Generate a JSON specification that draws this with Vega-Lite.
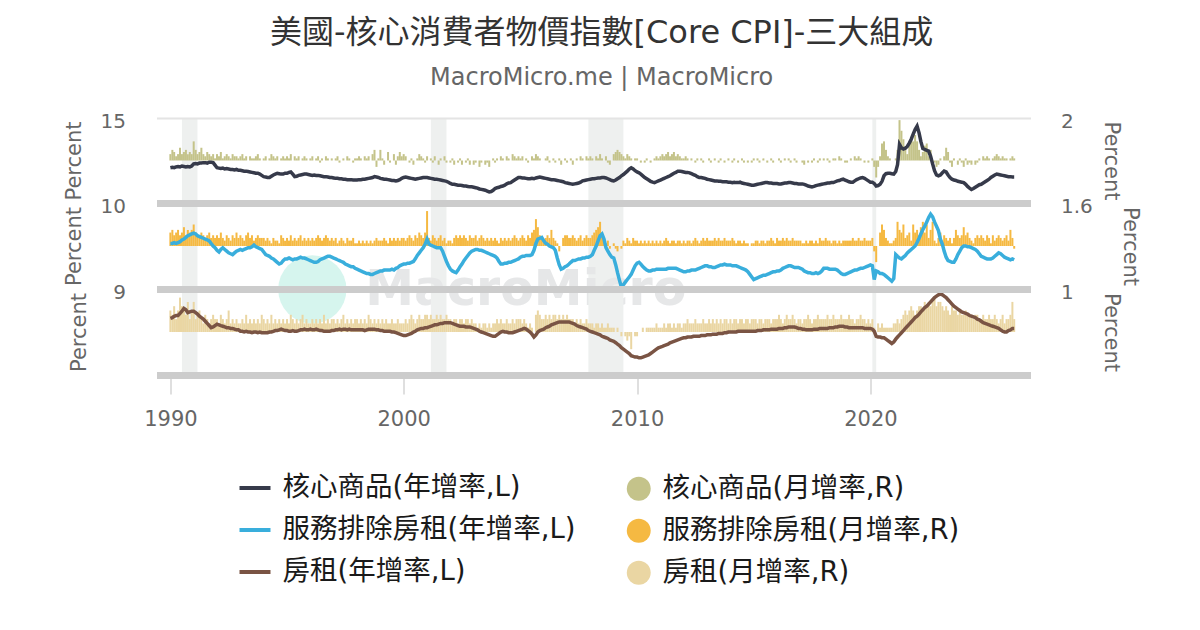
{
  "$schema": "https://vega.github.io/schema/vega-lite/v6.json",
  "background": "white",
  "padding": {"left": 62.5, "top": 17, "right": 20, "bottom": 10},
  "title": {
    "text": "美國-核心消費者物價指數[Core CPI]-三大組成",
    "subtitle": "MacroMicro.me | MacroMicro",
    "anchor": "middle",
    "font": "DejaVu Sans, Noto Sans CJK TC",
    "fontSize": 32,
    "fontWeight": "normal",
    "color": "#333333",
    "subtitleFont": "DejaVu Sans",
    "subtitleFontSize": 24,
    "subtitleColor": "#666666",
    "subtitlePadding": 16,
    "offset": 20
  },
  "datasets": {
    "rec": [
      {"s": "1990-07-01", "e": "1991-03-01"},
      {"s": "2001-03-01", "e": "2001-11-01"},
      {"s": "2007-12-01", "e": "2009-06-01"},
      {"s": "2020-02-01", "e": "2020-04-01"}
    ]
  },
  "data": {
    "values": "d,a,b,c,p,q,r\n1990-01,3.3,5.3,4.9,0.3,0.5,0.5\n1990-02,3.4,5.3,5.0,0.5,0.6,0.4\n1990-03,3.3,5.4,5.2,0.4,0.4,0.6\n1990-04,3.5,5.3,5.3,0.2,0.5,0.3\n1990-05,3.6,5.4,5.3,0.3,0.6,0.5\n1990-06,3.5,5.5,5.6,0.6,0.4,0.8\n1990-07,3.7,5.7,5.9,0.3,0.5,0.6\n1990-08,3.6,5.8,6.3,0.4,0.7,0.5\n1990-09,3.5,6.0,6.1,0.5,0.4,0.4\n1990-10,3.6,6.2,5.7,0.3,0.6,0.7\n1990-11,3.5,6.3,5.8,0.4,0.5,0.3\n1990-12,3.7,6.4,5.9,0.3,0.6,0.5\n1991-01,4.2,6.5,5.9,0.9,0.8,0.7\n1991-02,4.3,6.4,5.7,0.5,0.5,0.3\n1991-03,4.2,6.2,5.5,0.3,0.4,0.4\n1991-04,4.4,6.1,5.2,0.4,0.3,0.5\n1991-05,4.4,6.0,5.0,0.6,0.5,0.3\n1991-06,4.5,5.9,4.8,0.3,0.4,0.2\n1991-07,4.5,5.8,4.5,0.2,0.3,0.4\n1991-08,4.4,5.7,4.2,0.4,0.4,0.3\n1991-09,4.6,5.6,3.9,0.3,0.5,0.2\n1991-10,4.6,5.3,3.6,0.2,0.3,0.3\n1991-11,4.5,5.0,3.7,0.3,0.4,0.4\n1991-12,3.9,4.8,3.9,0.1,0.3,0.3\n1992-01,3.3,4.5,4.1,0.3,0.4,0.3\n1992-02,3.2,4.3,4.0,0.2,0.3,0.2\n1992-03,3.1,4.6,3.9,0.4,0.5,0.4\n1992-04,3.2,4.8,3.8,0.1,0.3,0.3\n1992-05,3.0,4.6,3.7,0.2,0.2,0.2\n1992-06,3.1,4.4,3.6,0.3,0.4,0.3\n1992-07,3.0,4.2,3.6,0.2,0.3,0.5\n1992-08,2.9,4.1,3.5,0.1,0.2,0.2\n1992-09,2.9,4.0,3.5,0.3,0.4,0.3\n1992-10,2.8,4.2,3.4,0.2,0.3,0.2\n1992-11,2.9,4.4,3.3,0.2,0.5,0.3\n1992-12,2.7,4.5,3.3,0.1,0.3,0.2\n1993-01,2.7,4.6,3.1,0.2,0.4,0.2\n1993-02,2.6,4.5,3.1,0.3,0.3,0.3\n1993-03,2.5,4.6,3.0,0.1,0.2,0.2\n1993-04,2.5,4.7,3.1,0.2,0.4,0.4\n1993-05,2.4,4.8,3.0,0.0,0.5,0.2\n1993-06,2.3,4.8,3.0,0.2,0.3,0.3\n1993-07,2.2,4.9,2.9,0.1,0.4,0.2\n1993-08,2.1,5.1,3.0,0.1,0.2,0.3\n1993-09,2.0,4.9,3.0,0.2,0.3,0.2\n1993-10,2.0,4.8,2.9,0.3,0.4,0.3\n1993-11,1.8,4.7,3.0,0.1,0.3,0.2\n1993-12,1.5,4.6,2.9,0.0,0.3,0.4\n1994-01,1.2,4.3,2.9,0.1,0.3,0.3\n1994-02,1.1,4.0,2.9,0.2,0.2,0.2\n1994-03,1.0,3.9,2.9,0.0,0.3,0.3\n1994-04,1.0,3.8,3.0,0.1,0.2,0.2\n1994-05,1.3,3.6,3.0,0.3,0.1,0.4\n1994-06,1.6,3.5,3.1,0.2,0.3,0.2\n1994-07,1.8,3.3,3.2,0.1,0.2,0.3\n1994-08,2.0,3.1,3.2,0.2,0.2,0.2\n1994-09,1.9,2.9,3.3,0.0,0.1,0.3\n1994-10,1.8,3.0,3.4,0.1,0.4,0.2\n1994-11,1.8,3.3,3.3,0.2,0.3,0.3\n1994-12,2.0,3.5,3.2,0.1,0.2,0.2\n1995-01,2.0,3.5,3.2,0.2,0.3,0.3\n1995-02,2.2,3.6,3.1,0.1,0.2,0.2\n1995-03,2.3,3.5,3.1,0.3,0.4,0.4\n1995-04,1.8,3.4,3.2,0.0,0.2,0.3\n1995-05,1.2,3.5,3.1,0.2,0.3,0.2\n1995-06,1.3,3.5,3.1,0.1,0.2,0.3\n1995-07,1.5,3.6,3.2,0.2,0.3,0.2\n1995-08,1.6,3.7,3.3,0.0,0.4,0.3\n1995-09,1.7,3.6,3.3,0.1,0.2,0.4\n1995-10,1.8,3.6,3.4,0.2,0.3,0.2\n1995-11,1.8,3.5,3.3,0.1,0.2,0.3\n1995-12,1.7,3.4,3.3,0.0,0.3,0.2\n1996-01,1.6,3.3,3.4,0.1,0.2,0.2\n1996-02,1.5,3.2,3.3,0.2,0.3,0.3\n1996-03,1.6,3.1,3.3,0.0,0.2,0.2\n1996-04,1.5,3.1,3.4,0.1,0.3,0.3\n1996-05,1.5,3.2,3.3,0.2,0.4,0.2\n1996-06,1.4,3.4,3.2,-0.1,0.3,0.3\n1996-07,1.3,3.5,3.2,0.1,0.2,0.2\n1996-08,1.2,3.6,3.1,0.0,0.3,0.4\n1996-09,1.2,3.7,3.1,0.2,0.4,0.2\n1996-10,1.1,3.8,3.1,0.1,0.3,0.3\n1996-11,1.0,3.8,3.1,0.0,0.2,0.2\n1996-12,1.0,3.7,3.2,0.1,0.3,0.3\n1997-01,0.9,3.6,3.2,0.0,0.2,0.3\n1997-02,0.8,3.5,3.3,0.1,0.3,0.2\n1997-03,0.8,3.4,3.3,0.2,0.1,0.3\n1997-04,0.7,3.3,3.4,-0.1,0.2,0.2\n1997-05,0.7,3.2,3.3,0.0,0.3,0.3\n1997-06,0.6,3.1,3.4,0.1,0.2,0.4\n1997-07,0.6,2.9,3.4,0.0,0.1,0.2\n1997-08,0.5,2.8,3.3,0.2,0.3,0.3\n1997-09,0.5,2.7,3.4,0.1,0.2,0.2\n1997-10,0.5,2.6,3.3,0.0,0.2,0.3\n1997-11,0.4,2.6,3.3,-0.1,0.3,0.2\n1997-12,0.4,2.4,3.3,0.1,0.1,0.3\n1998-01,0.4,2.3,3.3,0.1,0.1,0.3\n1998-02,0.5,2.2,3.3,0.2,0.2,0.2\n1998-03,0.5,2.1,3.3,0.1,0.1,0.3\n1998-04,0.6,2.0,3.3,0.0,0.2,0.2\n1998-05,0.6,1.9,3.2,0.2,0.1,0.3\n1998-06,0.7,1.8,3.3,0.1,0.2,0.2\n1998-07,0.8,1.8,3.4,0.2,0.1,0.4\n1998-08,0.9,1.7,3.4,0.0,0.2,0.3\n1998-09,1.0,1.7,3.4,0.3,0.1,0.2\n1998-10,1.2,1.8,3.4,0.5,0.2,0.3\n1998-11,1.1,1.9,3.3,-0.3,0.3,0.2\n1998-12,1.0,2.0,3.3,0.1,0.2,0.3\n1999-01,0.8,2.1,3.2,0.5,0.2,0.2\n1999-02,0.7,2.1,3.2,0.1,0.2,0.3\n1999-03,0.6,2.2,3.1,-0.2,0.3,0.2\n1999-04,0.6,2.2,3.1,0.0,0.2,0.3\n1999-05,0.5,2.2,3.1,0.4,0.1,0.2\n1999-06,0.4,2.2,3.1,-0.1,0.3,0.2\n1999-07,0.3,2.3,3.0,0.0,0.2,0.3\n1999-08,0.3,2.2,3.0,0.3,0.3,0.2\n1999-09,0.2,2.4,2.9,-0.2,0.2,0.2\n1999-10,0.3,2.5,2.8,0.2,0.3,0.3\n1999-11,0.5,2.7,2.7,0.4,0.2,0.2\n1999-12,0.8,2.8,2.6,0.2,0.3,0.2\n2000-01,1.0,2.9,2.5,0.3,0.3,0.2\n2000-02,1.1,2.9,2.5,0.2,0.2,0.3\n2000-03,1.0,3.0,2.6,0.0,0.3,0.2\n2000-04,0.9,3.0,2.7,-0.1,0.4,0.3\n2000-05,0.8,3.1,2.8,0.1,0.3,0.4\n2000-06,0.7,3.2,3.0,-0.2,0.2,0.3\n2000-07,0.6,3.5,3.1,0.0,0.4,0.2\n2000-08,0.7,3.9,3.3,0.1,0.3,0.3\n2000-09,0.8,4.2,3.4,0.3,0.5,0.4\n2000-10,0.9,4.5,3.5,0.2,0.4,0.3\n2000-11,1.0,4.8,3.5,0.1,0.3,0.3\n2000-12,1.0,5.2,3.6,-0.1,0.5,0.4\n2001-01,1.0,5.8,3.6,0.2,1.3,0.4\n2001-02,0.9,5.2,3.7,0.0,0.3,0.3\n2001-03,0.8,5.1,3.8,0.1,0.2,0.4\n2001-04,0.7,5.0,3.9,-0.1,0.4,0.3\n2001-05,0.6,4.9,4.0,0.2,0.3,0.3\n2001-06,0.6,4.8,4.0,0.0,0.2,0.4\n2001-07,0.5,4.8,4.1,-0.2,0.3,0.3\n2001-08,0.4,4.8,4.2,0.1,0.4,0.4\n2001-09,0.3,4.4,4.2,0.0,0.2,0.3\n2001-10,0.2,3.8,4.3,0.2,0.3,0.3\n2001-11,0.1,3.2,4.3,-0.1,0.1,0.4\n2001-12,-0.1,2.7,4.3,0.0,0.2,0.3\n2002-01,-0.4,2.3,4.3,-0.1,0.2,0.3\n2002-02,-0.6,2.1,4.2,0.1,0.1,0.2\n2002-03,-0.6,2.0,4.1,-0.2,0.3,0.3\n2002-04,-0.7,1.9,4.0,0.0,0.4,0.3\n2002-05,-0.8,2.2,3.9,-0.1,0.3,0.2\n2002-06,-0.8,2.6,3.8,0.1,0.4,0.3\n2002-07,-0.9,2.9,3.8,-0.2,0.3,0.3\n2002-08,-1.0,3.3,3.8,0.0,0.4,0.2\n2002-09,-1.0,3.6,3.7,-0.1,0.3,0.3\n2002-10,-1.1,3.9,3.7,0.1,0.2,0.3\n2002-11,-1.2,4.2,3.7,-0.2,0.4,0.2\n2002-12,-1.2,4.4,3.6,0.0,0.3,0.3\n2003-01,-1.3,4.5,3.5,-0.2,0.3,0.2\n2003-02,-1.4,4.6,3.4,-0.1,0.4,0.2\n2003-03,-1.5,4.6,3.3,0.0,0.2,0.1\n2003-04,-1.7,4.5,3.1,-0.3,0.3,0.2\n2003-05,-1.8,4.5,3.0,-0.1,0.4,0.1\n2003-06,-1.9,4.4,2.9,0.0,0.3,0.2\n2003-07,-2.0,4.3,2.8,-0.2,0.2,0.2\n2003-08,-2.2,4.2,2.7,-0.1,0.3,0.1\n2003-09,-2.4,4.1,2.6,-0.3,0.2,0.2\n2003-10,-2.3,4.0,2.5,0.0,0.3,0.1\n2003-11,-2.0,3.9,2.4,0.1,0.2,0.2\n2003-12,-1.6,3.8,2.4,-0.1,0.3,0.2\n2004-01,-1.4,3.6,2.6,0.1,0.2,0.3\n2004-02,-1.3,3.2,2.8,0.0,0.1,0.2\n2004-03,-1.1,2.9,3.0,0.2,0.3,0.3\n2004-04,-1.0,2.9,3.1,0.1,0.2,0.2\n2004-05,-0.8,3.0,3.0,0.0,0.3,0.2\n2004-06,-0.5,3.0,3.0,0.2,0.2,0.3\n2004-07,-0.3,3.1,2.9,0.1,0.3,0.2\n2004-08,-0.2,3.1,2.9,0.0,0.2,0.2\n2004-09,0.1,3.2,2.9,0.3,0.3,0.3\n2004-10,0.4,3.3,3.0,0.2,0.4,0.2\n2004-11,0.7,3.4,3.1,0.1,0.3,0.3\n2004-12,1.0,3.5,3.2,0.2,0.2,0.3\n2005-01,1.0,3.7,3.3,0.1,0.3,0.3\n2005-02,0.9,3.8,3.4,0.2,0.4,0.2\n2005-03,0.9,3.8,3.5,0.0,0.3,0.3\n2005-04,0.8,3.9,3.4,0.1,0.2,0.2\n2005-05,0.7,3.9,3.2,-0.1,0.4,0.1\n2005-06,0.7,3.9,3.0,0.0,0.3,0.2\n2005-07,0.8,4.0,2.7,0.2,0.5,0.1\n2005-08,0.7,4.5,2.3,0.1,0.6,0.0\n2005-09,0.9,5.3,2.6,0.3,1.0,0.4\n2005-10,1.0,5.8,3.0,0.2,0.7,0.5\n2005-11,1.1,5.9,3.2,0.1,0.4,0.4\n2005-12,1.0,6.0,3.3,0.0,0.3,0.3\n2006-01,0.9,5.6,3.4,0.0,0.2,0.3\n2006-02,0.8,5.3,3.6,0.1,0.3,0.4\n2006-03,0.7,5.2,3.7,0.2,0.4,0.3\n2006-04,0.6,5.0,3.8,-0.1,0.3,0.4\n2006-05,0.5,4.9,4.0,0.0,0.6,0.3\n2006-06,0.5,4.8,4.1,0.1,0.3,0.4\n2006-07,0.4,4.5,4.2,-0.1,0.2,0.4\n2006-08,0.3,3.6,4.3,0.0,0.1,0.3\n2006-09,0.2,2.8,4.4,0.1,-0.2,0.4\n2006-10,0.1,2.3,4.4,-0.2,0.0,0.3\n2006-11,0.0,2.4,4.4,0.0,0.3,0.4\n2006-12,-0.2,2.6,4.4,0.1,0.4,0.3\n2007-01,-0.3,2.7,4.4,-0.1,0.4,0.4\n2007-02,-0.4,2.9,4.4,0.0,0.3,0.3\n2007-03,-0.5,3.1,4.3,0.1,0.3,0.3\n2007-04,-0.6,3.3,4.2,-0.2,0.4,0.3\n2007-05,-0.5,3.3,4.1,0.0,0.3,0.2\n2007-06,-0.4,3.4,3.9,0.1,0.2,0.3\n2007-07,-0.3,3.5,3.8,0.0,0.3,0.2\n2007-08,-0.1,3.5,3.7,0.2,0.4,0.3\n2007-09,0.2,3.6,3.6,0.1,0.2,0.2\n2007-10,0.3,3.6,3.5,0.0,0.3,0.2\n2007-11,0.4,3.7,3.4,0.2,0.4,0.3\n2007-12,0.5,3.7,3.2,0.1,0.3,0.2\n2008-01,0.6,3.8,3.1,0.2,0.3,0.2\n2008-02,0.7,4.0,3.0,0.1,0.4,0.2\n2008-03,0.7,4.5,2.9,0.0,0.5,0.1\n2008-04,0.8,5.0,2.8,0.2,0.6,0.2\n2008-05,0.9,5.6,2.7,0.1,0.7,0.2\n2008-06,0.9,6.2,2.6,0.3,0.9,0.1\n2008-07,1.0,6.4,2.4,0.1,0.5,0.2\n2008-08,1.0,5.8,2.3,0.0,0.2,0.1\n2008-09,0.9,4.8,2.2,0.2,0.1,0.1\n2008-10,0.7,4.4,2.1,-0.1,0.2,0.2\n2008-11,0.5,4.0,1.9,-0.2,-0.1,0.1\n2008-12,0.3,3.7,1.8,0.0,0.0,0.1\n2009-01,0.2,3.6,1.7,0.3,0.1,0.1\n2009-02,0.4,2.8,1.5,0.4,-0.1,0.0\n2009-03,0.7,1.9,1.3,0.5,-0.2,0.1\n2009-04,1.0,1.0,1.1,0.4,0.0,0.0\n2009-05,1.4,0.2,0.8,0.3,-0.1,-0.1\n2009-06,1.7,0.5,0.6,0.2,0.2,0.0\n2009-07,2.1,0.8,0.4,0.1,0.1,-0.1\n2009-08,2.5,1.1,0.2,0.3,0.3,-0.2\n2009-09,3.0,1.4,0.0,0.2,0.2,-0.1\n2009-10,3.3,1.7,-0.3,0.1,0.1,-0.4\n2009-11,3.0,2.2,-0.4,0.0,0.3,0.0\n2009-12,2.6,2.7,-0.5,0.1,0.2,-0.1\n2010-01,2.3,3.0,-0.5,0.1,0.2,-0.1\n2010-02,2.1,3.1,-0.6,0.0,0.1,0.0\n2010-03,1.8,2.9,-0.6,-0.1,0.2,0.0\n2010-04,1.4,2.6,-0.5,0.0,0.1,0.1\n2010-05,1.0,2.4,-0.4,-0.1,0.2,0.0\n2010-06,0.7,2.2,-0.3,0.1,0.1,0.1\n2010-07,0.4,2.1,-0.2,0.0,0.2,0.1\n2010-08,0.1,2.1,0.0,-0.1,0.1,0.1\n2010-09,-0.1,2.2,0.2,0.0,0.2,0.1\n2010-10,-0.2,2.2,0.4,0.1,0.1,0.1\n2010-11,0.0,2.3,0.6,0.2,0.2,0.2\n2010-12,0.2,2.3,0.8,0.1,0.1,0.1\n2011-01,0.4,2.3,0.9,0.2,0.2,0.1\n2011-02,0.6,2.3,1.0,0.3,0.1,0.1\n2011-03,0.8,2.3,1.1,0.2,0.2,0.2\n2011-04,1.0,2.3,1.2,0.3,0.3,0.1\n2011-05,1.2,2.4,1.3,0.4,0.2,0.2\n2011-06,1.4,2.4,1.5,0.2,0.1,0.2\n2011-07,1.7,2.4,1.6,0.3,0.2,0.1\n2011-08,2.0,2.4,1.7,0.4,0.2,0.2\n2011-09,2.2,2.4,1.8,0.2,0.1,0.1\n2011-10,2.5,2.3,1.9,0.3,0.2,0.2\n2011-11,2.5,2.2,2.0,0.2,0.2,0.2\n2011-12,2.4,2.1,2.1,0.1,0.1,0.1\n2012-01,2.3,2.0,2.2,0.1,0.2,0.2\n2012-02,2.2,2.0,2.2,0.2,0.1,0.2\n2012-03,2.2,2.1,2.3,0.1,0.2,0.3\n2012-04,2.1,2.1,2.3,0.0,0.2,0.2\n2012-05,1.9,2.2,2.3,0.1,0.1,0.2\n2012-06,1.7,2.2,2.4,0.0,0.2,0.2\n2012-07,1.5,2.2,2.4,-0.1,0.3,0.3\n2012-08,1.2,2.3,2.4,0.1,0.2,0.2\n2012-09,1.0,2.4,2.4,0.0,0.1,0.2\n2012-10,1.0,2.5,2.5,0.1,0.2,0.2\n2012-11,0.9,2.6,2.5,-0.1,0.3,0.3\n2012-12,0.8,2.7,2.5,0.0,0.2,0.2\n2013-01,0.6,2.7,2.6,0.0,0.3,0.2\n2013-02,0.5,2.6,2.6,0.1,0.2,0.3\n2013-03,0.4,2.6,2.6,-0.1,0.2,0.2\n2013-04,0.3,2.5,2.7,0.0,0.2,0.3\n2013-05,0.2,2.5,2.7,0.1,0.3,0.2\n2013-06,0.2,2.6,2.7,0.0,0.2,0.3\n2013-07,0.1,2.7,2.8,-0.1,0.3,0.2\n2013-08,0.1,2.8,2.8,0.1,0.2,0.3\n2013-09,0.0,2.8,2.8,0.0,0.2,0.2\n2013-10,0.0,2.9,2.9,-0.1,0.3,0.3\n2013-11,0.0,2.8,2.9,0.0,0.2,0.3\n2013-12,-0.1,2.8,3.0,0.1,0.2,0.2\n2014-01,-0.1,2.8,3.0,0.0,0.2,0.3\n2014-02,-0.2,2.7,3.0,-0.1,0.3,0.2\n2014-03,-0.1,2.7,3.0,0.1,0.2,0.3\n2014-04,-0.2,2.7,3.0,0.0,0.1,0.3\n2014-05,-0.2,2.6,3.1,-0.1,0.2,0.2\n2014-06,-0.1,2.5,3.1,0.0,0.2,0.3\n2014-07,-0.3,2.4,3.1,0.1,0.1,0.3\n2014-08,-0.4,2.3,3.1,-0.1,0.2,0.2\n2014-09,-0.5,2.2,3.1,0.0,0.1,0.3\n2014-10,-0.6,2.0,3.1,-0.1,0.1,0.3\n2014-11,-0.7,1.7,3.1,0.0,0.0,0.2\n2014-12,-0.8,1.4,3.1,-0.1,0.1,0.3\n2015-01,-0.8,1.1,3.1,0.1,0.1,0.3\n2015-02,-0.7,1.2,3.1,0.0,0.2,0.3\n2015-03,-0.6,1.3,3.2,0.1,0.2,0.2\n2015-04,-0.5,1.4,3.2,-0.1,0.1,0.3\n2015-05,-0.4,1.5,3.2,0.0,0.2,0.3\n2015-06,-0.3,1.6,3.3,0.1,0.2,0.2\n2015-07,-0.2,1.6,3.3,0.0,0.1,0.3\n2015-08,-0.2,1.7,3.3,-0.1,0.2,0.3\n2015-09,-0.3,1.8,3.3,0.0,0.2,0.3\n2015-10,-0.3,1.9,3.4,0.1,0.3,0.2\n2015-11,-0.4,2.0,3.4,-0.1,0.2,0.3\n2015-12,-0.4,2.0,3.4,0.0,0.1,0.3\n2016-01,-0.4,2.1,3.4,0.0,0.3,0.3\n2016-02,-0.5,2.1,3.5,0.1,0.2,0.4\n2016-03,-0.5,2.2,3.5,-0.1,0.2,0.3\n2016-04,-0.4,2.4,3.5,0.0,0.3,0.2\n2016-05,-0.3,2.5,3.6,0.1,0.2,0.3\n2016-06,-0.3,2.6,3.6,0.0,0.3,0.4\n2016-07,-0.2,2.7,3.7,0.1,0.2,0.3\n2016-08,-0.2,2.7,3.7,-0.1,0.2,0.3\n2016-09,-0.3,2.6,3.7,0.0,0.3,0.4\n2016-10,-0.4,2.5,3.7,0.1,0.2,0.3\n2016-11,-0.4,2.5,3.6,-0.1,0.2,0.2\n2016-12,-0.5,2.5,3.5,0.0,0.2,0.3\n2017-01,-0.5,2.4,3.5,0.0,0.2,0.3\n2017-02,-0.5,2.3,3.4,-0.1,0.1,0.2\n2017-03,-0.6,2.1,3.4,-0.2,0.1,0.3\n2017-04,-0.8,2.0,3.3,0.0,0.2,0.3\n2017-05,-1.0,1.9,3.3,-0.1,0.1,0.4\n2017-06,-1.1,1.9,3.3,0.0,0.2,0.3\n2017-07,-1.2,1.8,3.3,-0.1,0.2,0.2\n2017-08,-1.1,1.8,3.4,0.1,0.1,0.3\n2017-09,-0.9,1.9,3.4,0.0,0.2,0.3\n2017-10,-0.8,1.8,3.4,-0.1,0.1,0.4\n2017-11,-0.7,1.9,3.5,0.1,0.3,0.3\n2017-12,-0.6,2.1,3.5,0.0,0.2,0.3\n2018-01,-0.5,2.4,3.5,0.1,0.2,0.3\n2018-02,-0.4,2.4,3.5,0.0,0.3,0.3\n2018-03,-0.3,2.4,3.5,0.1,0.2,0.4\n2018-04,-0.3,2.3,3.6,-0.1,0.2,0.3\n2018-05,-0.2,2.3,3.6,0.0,0.1,0.3\n2018-06,-0.2,2.3,3.6,0.1,0.2,0.4\n2018-07,0.0,2.3,3.7,0.1,0.2,0.3\n2018-08,0.2,2.2,3.7,0.0,0.1,0.3\n2018-09,0.3,2.0,3.8,0.2,0.2,0.3\n2018-10,0.5,1.8,3.8,0.1,0.1,0.4\n2018-11,0.6,1.7,3.8,0.0,0.2,0.3\n2018-12,0.4,1.7,3.7,-0.1,0.2,0.3\n2019-01,0.2,1.8,3.7,-0.1,0.2,0.3\n2019-02,0.0,1.9,3.6,0.0,0.2,0.4\n2019-03,-0.1,2.0,3.6,0.1,0.2,0.3\n2019-04,-0.1,2.1,3.6,0.0,0.3,0.3\n2019-05,0.2,2.2,3.6,0.2,0.2,0.2\n2019-06,0.5,2.2,3.6,0.1,0.2,0.3\n2019-07,0.7,2.3,3.6,0.2,0.3,0.3\n2019-08,0.9,2.4,3.6,0.1,0.2,0.4\n2019-09,1.0,2.4,3.6,0.0,0.2,0.3\n2019-10,0.8,2.5,3.5,-0.1,0.3,0.3\n2019-11,0.5,2.6,3.5,0.0,0.2,0.2\n2019-12,0.2,2.7,3.5,-0.1,0.2,0.3\n2020-01,-0.1,2.8,3.5,0.0,0.2,0.2\n2020-02,-0.1,2.7,3.4,0.1,0.3,0.3\n2020-03,-0.4,1.1,3.1,-0.3,-0.2,0.1\n2020-04,-1.0,2.1,2.4,-0.8,-0.6,0.0\n2020-05,-0.9,2.0,2.3,-0.3,0.0,0.2\n2020-06,-0.6,1.8,2.3,0.2,0.5,0.1\n2020-07,0.1,1.8,2.2,0.8,0.8,0.2\n2020-08,1.4,1.7,2.2,0.9,0.6,0.1\n2020-09,1.9,1.5,2.0,0.5,0.3,0.1\n2020-10,2.0,1.3,1.8,0.2,0.2,0.1\n2020-11,2.0,1.1,1.6,0.1,0.1,0.1\n2020-12,1.9,0.9,1.4,0.0,0.1,0.1\n2021-01,1.8,1.2,1.6,0.0,0.2,0.2\n2021-02,2.4,4.0,2.0,0.1,0.3,0.2\n2021-03,4.0,3.8,2.3,0.5,0.9,0.3\n2021-04,8.8,3.6,2.6,1.9,0.6,0.2\n2021-05,8.0,3.5,2.9,1.4,0.5,0.3\n2021-06,7.7,3.7,3.2,1.0,0.8,0.4\n2021-07,7.9,3.9,3.5,0.6,0.3,0.5\n2021-08,8.3,4.2,3.8,0.3,0.4,0.4\n2021-09,9.1,4.4,4.1,0.8,0.5,0.5\n2021-10,10.0,4.6,4.4,1.0,0.2,0.6\n2021-11,11.2,4.8,4.7,0.9,0.8,0.5\n2021-12,12.3,5.0,5.0,1.2,0.5,0.4\n2022-01,13.1,5.4,5.2,0.9,0.6,0.5\n2022-02,11.5,5.9,5.5,0.5,0.4,0.6\n2022-03,9.5,6.4,5.8,0.2,0.7,0.6\n2022-04,7.8,6.9,6.1,0.4,0.9,0.5\n2022-05,7.6,7.3,6.4,0.7,0.5,0.7\n2022-06,7.4,7.8,6.6,0.8,0.8,0.6\n2022-07,7.2,8.3,6.9,0.2,0.3,0.7\n2022-08,6.0,8.7,7.2,0.5,0.6,0.6\n2022-09,4.2,8.4,7.5,0.0,0.9,0.7\n2022-10,2.6,7.8,7.8,-0.1,0.2,0.8\n2022-11,1.6,7.3,8.0,-0.3,0.1,0.6\n2022-12,1.4,6.8,8.2,-0.2,0.3,0.7\n2023-01,1.6,5.8,8.3,0.1,0.5,0.7\n2023-02,2.1,5.2,8.2,0.0,0.2,0.6\n2023-03,2.5,4.4,8.0,0.2,0.4,0.5\n2023-04,2.3,3.7,7.8,0.6,0.3,0.6\n2023-05,1.6,3.3,7.5,0.4,0.2,0.5\n2023-06,1.0,3.2,7.2,-0.1,0.3,0.4\n2023-07,0.6,3.1,6.9,-0.3,0.1,0.6\n2023-08,0.4,3.1,6.6,0.1,0.3,0.5\n2023-09,0.3,3.5,6.4,0.0,0.6,0.5\n2023-10,0.1,4.0,6.2,-0.2,0.4,0.4\n2023-11,0.0,4.4,6.0,0.1,0.3,0.5\n2023-12,-0.1,4.8,5.8,-0.1,0.4,0.4\n2024-01,-0.2,5.0,5.7,-0.3,0.7,0.4\n2024-02,-0.6,5.0,5.6,0.1,0.4,0.5\n2024-03,-1.1,4.9,5.5,-0.2,0.5,0.4\n2024-04,-1.5,4.9,5.3,-0.1,0.3,0.4\n2024-05,-1.8,4.8,5.2,-0.2,0.2,0.4\n2024-06,-1.6,4.7,5.1,0.0,0.1,0.3\n2024-07,-1.3,4.6,5.0,-0.2,0.3,0.4\n2024-08,-1.0,4.4,4.8,-0.1,0.4,0.4\n2024-09,-0.7,4.1,4.7,0.1,0.3,0.3\n2024-10,-0.6,3.8,4.5,0.0,0.4,0.3\n2024-11,-0.3,3.7,4.3,0.2,0.3,0.4\n2024-12,0.0,3.6,4.2,0.1,0.2,0.3\n2025-01,0.3,3.5,4.1,0.2,0.4,0.3\n2025-02,0.6,3.5,4.0,0.1,0.3,0.4\n2025-03,1.0,3.5,3.9,0.0,0.1,0.3\n2025-04,1.3,3.6,3.8,0.1,0.4,0.3\n2025-05,1.6,3.8,3.7,0.2,0.2,0.4\n2025-06,1.8,4.0,3.6,0.3,0.3,0.3\n2025-07,1.7,4.2,3.5,0.2,0.4,0.2\n2025-08,1.6,4.1,3.3,0.1,0.3,0.3\n2025-09,1.5,3.9,3.1,0.2,0.2,0.4\n2025-10,1.4,3.7,3.0,0.1,0.3,0.2\n2025-11,1.3,3.6,3.0,0.1,0.4,0.3\n2025-12,1.2,3.5,3.2,0.0,0.2,0.3\n2026-01,1.2,3.4,3.3,0.1,0.6,0.4\n2026-02,1.1,3.5,3.5,0.2,0.3,0.7\n2026-03,1.1,3.4,3.5,0.1,-0.1,0.3",
    "format": {
      "type": "csv",
      "parse": {"d": "date", "a": "number", "b": "number", "c": "number", "p": "number", "q": "number", "r": "number"}
    }
  },
  "bounds": "flush",
  "spacing": 0,
  "vconcat": [
    {
      "width": 874,
      "height": 85,
      "layer": [
        {
          "data": {"name": "rec"},
          "mark": {"type": "rect", "color": "#eef0ef"},
          "encoding": {
            "x": {
              "field": "s", "type": "temporal",
              "scale": {"type": "utc", "domain": [{"year": 1989, "month": 8, "date": 15, "utc": true}, {"year": 2026, "month": 8, "date": 25, "utc": true}]},
              "axis": {"orient": "top", "title": null, "labels": false, "ticks": false, "grid": false, "domainColor": "#e4e4e4", "domainWidth": 2, "zindex": 1}
            },
            "x2": {"field": "e"}
          }
        },
        {
          "mark": {"type": "bar", "width": 2},
          "encoding": {
            "x": {"field": "d", "type": "temporal", "axis": null},
            "y": {
              "field": "p", "type": "quantitative",
              "scale": {"domain": [-2, 2], "nice": false},
              "axis": {"orient": "right", "values": [2], "labelExpr": "'' + datum.value", "title": "Percent", "titlePadding": 27, "titleFontSize": 21, "titleColor": "#666666", "titleFontWeight": "normal", "labelFontSize": 20, "labelColor": "#666666", "labelPadding": 30, "labelOffset": 3, "ticks": false, "tickSize": 0, "domain": false, "grid": false}
            },
            "fill": {
              "datum": "核心商品(月增率,R)", "type": "nominal",
              "scale": {"domain": ["核心商品(月增率,R)", "服務排除房租(月增率,R)", "房租(月增率,R)"], "range": ["#c4c38a", "#f5b942", "#ead6a3"]},
              "legend": {"orient": "none", "legendX": 468.5, "legendY": 357, "title": null, "direction": "vertical", "symbolType": "circle", "symbolSize": 572, "symbolStrokeWidth": 0, "symbolOpacity": 1, "labelFont": "DejaVu Sans, Noto Sans CJK TC", "labelFontSize": 27.5, "labelColor": "#1a1a1a", "labelOffset": 10, "rowPadding": 13, "labelLimit": 400}
            }
          }
        },
        {
          "mark": {"type": "line", "strokeWidth": 3.5},
          "encoding": {
            "x": {
              "field": "d", "type": "temporal",
              "axis": {"orient": "bottom", "title": null, "labels": false, "ticks": false, "grid": false, "domainColor": "#cccccc", "domainWidth": 7, "zindex": 1}
            },
            "y": {
              "field": "a", "type": "quantitative",
              "scale": {"domain": [-5, 15], "nice": false},
              "axis": {"orient": "left", "values": [15], "labelExpr": "'' + datum.value", "title": "Percent", "titlePadding": 16, "titleFontSize": 21, "titleColor": "#666666", "titleFontWeight": "normal", "labelFontSize": 20, "labelColor": "#666666", "labelPadding": 31, "labelOffset": 3, "ticks": false, "tickSize": 0, "domain": false, "grid": false}
            },
            "stroke": {
              "datum": "核心商品(年增率,L)", "type": "nominal",
              "scale": {"domain": ["核心商品(年增率,L)", "服務排除房租(年增率,L)", "房租(年增率,L)"], "range": ["#363a4a", "#39aedc", "#7a5444"]},
              "legend": {"orient": "none", "legendX": 81, "legendY": 352.5, "title": null, "direction": "vertical", "symbolType": "stroke", "symbolSize": 961, "symbolStrokeWidth": 4, "labelFont": "DejaVu Sans, Noto Sans CJK TC", "labelFontSize": 27.5, "labelColor": "#1a1a1a", "labelOffset": 10, "rowPadding": 11, "labelLimit": 400}
            }
          }
        }
      ],
      "resolve": {"scale": {"y": "independent"}, "axis": {"x": "independent"}}
    },
    {
      "width": 874,
      "height": 86,
      "layer": [
        {
          "data": {"name": "rec"},
          "mark": {"type": "rect", "color": "#eef0ef"},
          "encoding": {
            "x": {
              "field": "s", "type": "temporal",
              "scale": {"type": "utc", "domain": [{"year": 1989, "month": 8, "date": 15, "utc": true}, {"year": 2026, "month": 8, "date": 25, "utc": true}]},
              "axis": {"orient": "top", "title": null, "labels": false, "ticks": false, "grid": false, "domainColor": "#cccccc", "domainWidth": 7, "zindex": 1}
            },
            "x2": {"field": "e"}
          }
        },
        {
          "data": {"values": [{}]},
          "mark": {"type": "point", "filled": true, "size": 4660, "color": "#d6f5ee", "opacity": 1},
          "encoding": {
            "x": {"datum": {"year": 1996, "month": 2, "date": 1, "utc": true}, "type": "temporal", "axis": null},
            "y": {"datum": -0.05, "type": "quantitative", "scale": {"domain": [0, 10], "nice": false}, "axis": null}
          }
        },
        {
          "data": {"values": [{}]},
          "mark": {"type": "text", "text": "MacroMicro", "align": "left", "baseline": "middle", "font": "DejaVu Sans", "fontSize": 49, "fontWeight": "bold", "color": "#e6e7e8"},
          "encoding": {
            "x": {"datum": {"year": 1998, "month": 5, "date": 8, "utc": true}, "type": "temporal", "axis": null},
            "y": {"datum": -0.1, "type": "quantitative", "scale": {"domain": [0, 10], "nice": false}, "axis": null}
          }
        },
        {
          "mark": {"type": "bar", "width": 2},
          "encoding": {
            "x": {"field": "d", "type": "temporal", "axis": null},
            "y": {
              "field": "q", "type": "quantitative",
              "scale": {"domain": [-1.6, 1.6], "nice": false},
              "axis": {"orient": "right", "values": [1.6], "labelExpr": "'' + datum.value", "title": "Percent", "titlePadding": 27, "titleFontSize": 21, "titleColor": "#666666", "titleFontWeight": "normal", "labelFontSize": 20, "labelColor": "#666666", "labelPadding": 30, "labelOffset": 3, "ticks": false, "tickSize": 0, "domain": false, "grid": false}
            },
            "fill": {
              "datum": "服務排除房租(月增率,R)", "type": "nominal",
              "scale": {"domain": ["核心商品(月增率,R)", "服務排除房租(月增率,R)", "房租(月增率,R)"], "range": ["#c4c38a", "#f5b942", "#ead6a3"]},
              "legend": {"orient": "none", "legendX": 468.5, "legendY": 357, "title": null, "direction": "vertical", "symbolType": "circle", "symbolSize": 572, "symbolStrokeWidth": 0, "symbolOpacity": 1, "labelFont": "DejaVu Sans, Noto Sans CJK TC", "labelFontSize": 27.5, "labelColor": "#1a1a1a", "labelOffset": 10, "rowPadding": 13, "labelLimit": 400}
            }
          }
        },
        {
          "mark": {"type": "line", "strokeWidth": 3.5},
          "encoding": {
            "x": {
              "field": "d", "type": "temporal",
              "axis": {"orient": "bottom", "title": null, "labels": false, "ticks": false, "grid": false, "domainColor": "#cccccc", "domainWidth": 7, "zindex": 1}
            },
            "y": {
              "field": "b", "type": "quantitative",
              "scale": {"domain": [0, 10], "nice": false},
              "axis": {"orient": "left", "values": [10], "labelExpr": "'' + datum.value", "title": "Percent", "titlePadding": 16, "titleFontSize": 21, "titleColor": "#666666", "titleFontWeight": "normal", "labelFontSize": 20, "labelColor": "#666666", "labelPadding": 31, "labelOffset": 3, "ticks": false, "tickSize": 0, "domain": false, "grid": false}
            },
            "stroke": {
              "datum": "服務排除房租(年增率,L)", "type": "nominal",
              "scale": {"domain": ["核心商品(年增率,L)", "服務排除房租(年增率,L)", "房租(年增率,L)"], "range": ["#363a4a", "#39aedc", "#7a5444"]},
              "legend": {"orient": "none", "legendX": 81, "legendY": 352.5, "title": null, "direction": "vertical", "symbolType": "stroke", "symbolSize": 961, "symbolStrokeWidth": 4, "labelFont": "DejaVu Sans, Noto Sans CJK TC", "labelFontSize": 27.5, "labelColor": "#1a1a1a", "labelOffset": 10, "rowPadding": 11, "labelLimit": 400}
            }
          }
        }
      ],
      "resolve": {"scale": {"y": "independent"}, "axis": {"x": "independent"}}
    },
    {
      "width": 874,
      "height": 86,
      "layer": [
        {
          "data": {"name": "rec"},
          "mark": {"type": "rect", "color": "#eef0ef"},
          "encoding": {
            "x": {
              "field": "s", "type": "temporal",
              "scale": {"type": "utc", "domain": [{"year": 1989, "month": 8, "date": 15, "utc": true}, {"year": 2026, "month": 8, "date": 25, "utc": true}]},
              "axis": {"orient": "top", "title": null, "labels": false, "ticks": false, "grid": false, "domainColor": "#cccccc", "domainWidth": 7, "zindex": 1}
            },
            "x2": {"field": "e"}
          }
        },
        {
          "mark": {"type": "bar", "width": 2},
          "encoding": {
            "x": {"field": "d", "type": "temporal", "axis": null},
            "y": {
              "field": "r", "type": "quantitative",
              "scale": {"domain": [-1, 1], "nice": false},
              "axis": {"orient": "right", "values": [1], "labelExpr": "'' + datum.value", "title": "Percent", "titlePadding": 27, "titleFontSize": 21, "titleColor": "#666666", "titleFontWeight": "normal", "labelFontSize": 20, "labelColor": "#666666", "labelPadding": 30, "labelOffset": 3, "ticks": false, "tickSize": 0, "domain": false, "grid": false}
            },
            "fill": {
              "datum": "房租(月增率,R)", "type": "nominal",
              "scale": {"domain": ["核心商品(月增率,R)", "服務排除房租(月增率,R)", "房租(月增率,R)"], "range": ["#c4c38a", "#f5b942", "#ead6a3"]},
              "legend": {"orient": "none", "legendX": 468.5, "legendY": 357, "title": null, "direction": "vertical", "symbolType": "circle", "symbolSize": 572, "symbolStrokeWidth": 0, "symbolOpacity": 1, "labelFont": "DejaVu Sans, Noto Sans CJK TC", "labelFontSize": 27.5, "labelColor": "#1a1a1a", "labelOffset": 10, "rowPadding": 13, "labelLimit": 400}
            }
          }
        },
        {
          "mark": {"type": "line", "strokeWidth": 3.5},
          "encoding": {
            "x": {
              "field": "d", "type": "temporal",
              "axis": {"orient": "bottom", "title": null, "values": [{"year": 1990, "utc": true}, {"year": 2000, "utc": true}, {"year": 2010, "utc": true}, {"year": 2020, "utc": true}], "format": "%Y", "labelFontSize": 21, "labelColor": "#666666", "labelPadding": 14, "ticks": true, "tickSize": 19, "tickColor": "#d4d4d4", "tickWidth": 1.5, "grid": false, "domainColor": "#cccccc", "domainWidth": 7, "zindex": 1}
            },
            "y": {
              "field": "c", "type": "quantitative",
              "scale": {"domain": [-3, 9], "nice": false},
              "axis": {"orient": "left", "values": [9], "labelExpr": "'' + datum.value", "title": "Percent", "titlePadding": 23, "titleFontSize": 21, "titleColor": "#666666", "titleFontWeight": "normal", "labelFontSize": 20, "labelColor": "#666666", "labelPadding": 31, "labelOffset": 3, "ticks": false, "tickSize": 0, "domain": false, "grid": false}
            },
            "stroke": {
              "datum": "房租(年增率,L)", "type": "nominal",
              "scale": {"domain": ["核心商品(年增率,L)", "服務排除房租(年增率,L)", "房租(年增率,L)"], "range": ["#363a4a", "#39aedc", "#7a5444"]},
              "legend": {"orient": "none", "legendX": 81, "legendY": 352.5, "title": null, "direction": "vertical", "symbolType": "stroke", "symbolSize": 961, "symbolStrokeWidth": 4, "labelFont": "DejaVu Sans, Noto Sans CJK TC", "labelFontSize": 27.5, "labelColor": "#1a1a1a", "labelOffset": 10, "rowPadding": 11, "labelLimit": 400}
            }
          }
        }
      ],
      "resolve": {"scale": {"y": "independent"}, "axis": {"x": "independent"}}
    }
  ],
  "config": {
    "font": "DejaVu Sans, Noto Sans CJK TC",
    "view": {"stroke": null},
    "axis": {"labelFont": "DejaVu Sans", "titleFont": "DejaVu Sans"}
  }
}
